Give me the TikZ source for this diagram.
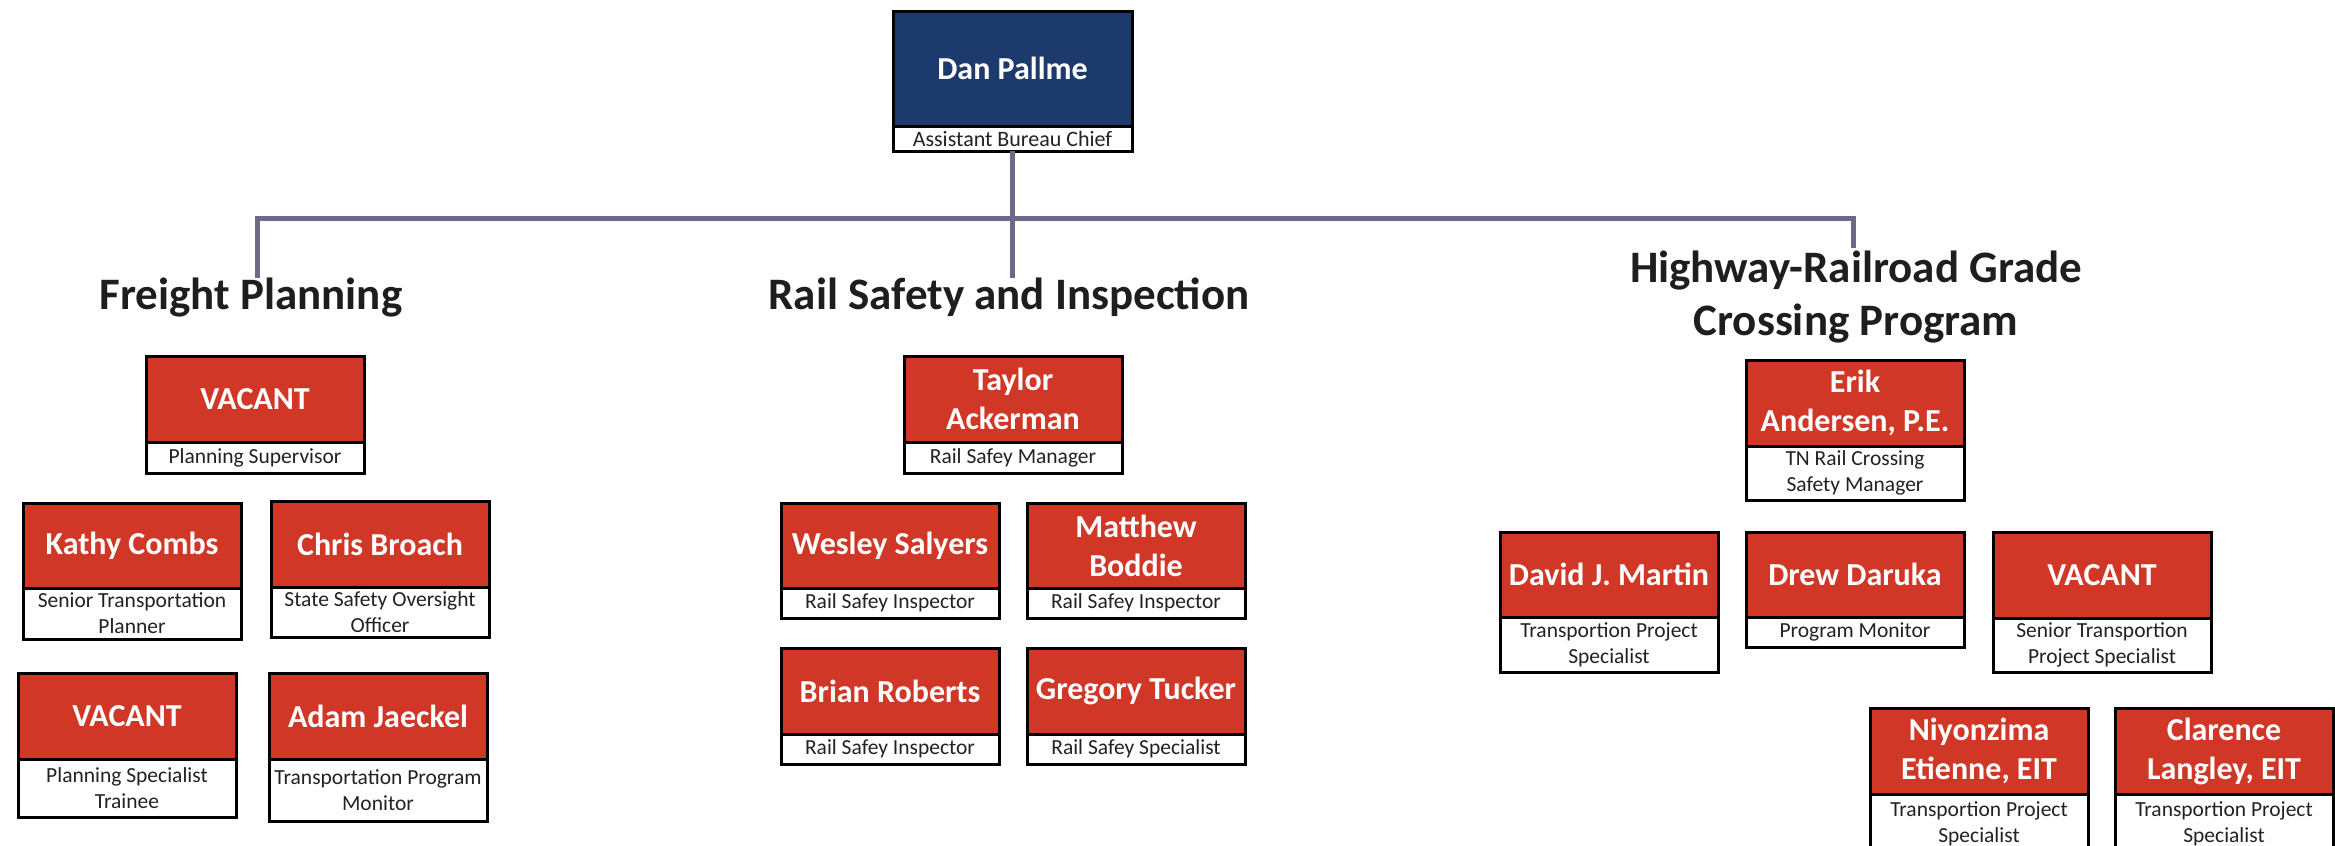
\documentclass[tikz,border=0pt]{standalone}
\usepackage{fontspec}
\setmainfont{Carlito}
\definecolor{navyc}{HTML}{1C3A6C}
\definecolor{redc}{HTML}{D13727}
\definecolor{connc}{HTML}{6C6A86}
\definecolor{headc}{HTML}{1E1E1E}
\definecolor{subc}{HTML}{222222}
\tikzset{
  namebox/.style={draw=black, line width=3pt, inner sep=0pt, outer sep=0pt,
    anchor=north west, text=white, align=center,
    font=\bfseries\fontsize{32}{39}\selectfont},
  titlebox/.style={draw=black, line width=3pt, fill=white, inner sep=0pt, outer sep=0pt,
    anchor=north west, text=subc, align=center,
    font=\fontsize{21.5}{26}\selectfont},
  heading/.style={font=\bfseries\fontsize{45}{53}\selectfont, text=headc, anchor=base},
  conn/.style={draw=connc, line width=5pt}
}
% #1 width, #2 id, #3 x, #4 top, #5 divider, #6 bottom, #7 fill, #8 name, #9 title
\newcommand{\orgbox}[9][218]{%
  \node[namebox, fill=#7, minimum width=#1pt, minimum height={(#5-#4)*1pt}] (#2) at (#3,#4) {#8};
  \node[titlebox, minimum width=#1pt, minimum height={(#6-#5)*1pt}] (#2t) at (#3,#5) {#9};
}
\begin{document}
\begin{tikzpicture}[x=1pt,y=-1pt]
\useasboundingbox (0,0) rectangle (2335,846);
\clip (0,0) rectangle (2335,846);

% top
\orgbox[239]{dan}{893}{11}{126}{151}{navyc}{\fontsize{32}{38}\selectfont Dan Pallme}{\fontsize{22}{26}\selectfont Assistant Bureau Chief}

% connectors
\coordinate (fpTop) at (257,278);
\coordinate (fpCorner) at (257,218);
\coordinate (hwCorner) at (1853,218);
\coordinate (hwTop) at (1853,248);
\coordinate (rsTop) at (1012.5,278);
\draw[conn] (dant.south) -- (rsTop);
\draw[conn] (fpTop) -- (fpCorner) -- (hwCorner) -- (hwTop);

% headings
\node[heading] (fph) at (251,309) {Freight Planning};
\node[heading] (rsh) at (1009,309) {Rail Safety and Inspection};
\node[heading] (hwh1) at (1856,282) {Highway-Railroad Grade};
\node[heading] (hwh2) at (1856,335) {Crossing Program};

% Freight Planning
\orgbox{fp1}{146}{356}{442}{473}{redc}{VACANT}{Planning Supervisor}
\orgbox{fp2}{23}{503}{588}{639}{redc}{Kathy Combs}{Senior Transportation\\Planner}
\orgbox{fp3}{271}{501}{587}{637}{redc}{Chris Broach}{State Safety Oversight\\Officer}
\orgbox{fp4}{18}{673}{759}{817}{redc}{VACANT}{Planning Specialist\\Trainee}
\orgbox{fp5}{269}{673}{759}{821}{redc}{Adam Jaeckel}{Transportation Program\\Monitor}

% Rail Safety and Inspection
\orgbox{rs1}{904}{356}{442}{473}{redc}{Taylor\\Ackerman}{Rail Safey Manager}
\orgbox{rs2}{781}{503}{588}{618}{redc}{Wesley Salyers}{Rail Safey Inspector}
\orgbox{rs3}{1027}{503}{588}{618}{redc}{Matthew\\Boddie}{Rail Safey Inspector}
\orgbox{rs4}{781}{648}{734}{764}{redc}{Brian Roberts}{Rail Safey Inspector}
\orgbox{rs5}{1027}{648}{734}{764}{redc}{Gregory Tucker}{Rail Safey Specialist}

% Highway-Railroad Grade Crossing Program
\orgbox{hw1}{1746}{360}{446}{500}{redc}{Erik\\Andersen, P.E.}{TN Rail Crossing\\Safety Manager}
\orgbox{hw2}{1500}{532}{617}{672}{redc}{David J. Martin}{Transportion Project\\Specialist}
\orgbox{hw3}{1746}{532}{617}{647}{redc}{Drew Daruka}{Program Monitor}
\orgbox{hw4}{1993}{532}{618}{672}{redc}{VACANT}{Senior Transportion\\Project Specialist}
\orgbox{hw5}{1870}{708}{794}{853}{redc}{Niyonzima\\Etienne, EIT}{Transportion Project\\Specialist}
\orgbox{hw6}{2115}{708}{794}{853}{redc}{Clarence\\Langley, EIT}{Transportion Project\\Specialist}
\end{tikzpicture}
\end{document}
